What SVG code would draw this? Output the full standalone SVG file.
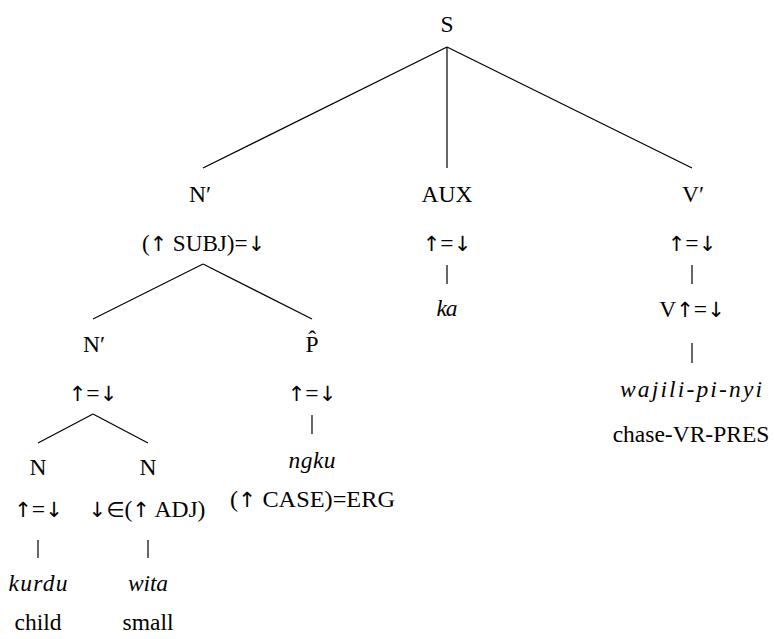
<svg xmlns="http://www.w3.org/2000/svg" width="775" height="639" viewBox="0 0 775 639">
<style>
text{font-family:"Liberation Serif","DejaVu Serif",serif;font-size:23.5px;fill:#000;text-anchor:middle}
.it{font-style:italic}
.ar{font-family:"DejaVu Sans","Liberation Sans",sans-serif;font-size:21px}
.n{opacity:0.99}
line{stroke:#000;stroke-width:1.2}
</style>
<rect width="775" height="639" fill="#fff"/>
<g id="connectors">
<line x1="447" y1="47" x2="203" y2="168"/>
<line x1="447" y1="47" x2="447" y2="168"/>
<line x1="447" y1="47" x2="692" y2="168"/>
<line x1="203" y1="264" x2="93" y2="319"/>
<line x1="203" y1="264" x2="312" y2="319"/>
<line x1="93" y1="414" x2="38" y2="443"/>
<line x1="93" y1="414" x2="148" y2="443"/>
<line x1="447" y1="265" x2="447" y2="284"/>
<line x1="692" y1="265" x2="692" y2="284"/>
<line x1="692" y1="343" x2="692" y2="363"/>
<line x1="312" y1="415" x2="312" y2="434"/>
<line x1="38" y1="540" x2="38" y2="558"/>
<line x1="148" y1="540" x2="148" y2="558"/>
</g>
<g id="S" class="n"><text x="447" y="32">S</text></g>
<g id="Nbar1" class="n"><text x="200" y="202">N′</text><text x="203.5" y="251" textLength="123" lengthAdjust="spacingAndGlyphs">(<tspan class="ar">↑︎</tspan> SUBJ)=<tspan class="ar">↓︎</tspan></text></g>
<g id="AUX" class="n"><text x="447" y="202">AUX</text><text x="447" y="251"><tspan class="ar">↑︎</tspan>=<tspan class="ar">↓︎</tspan></text><text class="it" x="447" y="316" textLength="21" lengthAdjust="spacing">ka</text></g>
<g id="Vbar" class="n"><text x="693" y="202">V′</text><text x="692" y="251"><tspan class="ar">↑︎</tspan>=<tspan class="ar">↓︎</tspan></text></g>
<g id="V" class="n"><text x="692" y="317">V<tspan class="ar">↑︎</tspan>=<tspan class="ar">↓︎</tspan></text><text class="it" x="691" y="397" textLength="142" lengthAdjust="spacing">wajili-pi-nyi</text><text x="691" y="442">chase-VR-PRES</text></g>
<g id="Nbar2" class="n"><text x="94" y="352">N′</text><text x="93" y="401"><tspan class="ar">↑︎</tspan>=<tspan class="ar">↓︎</tspan></text></g>
<g id="Phat" class="n"><text x="312" y="352">P̂</text><text x="312" y="401"><tspan class="ar">↑︎</tspan>=<tspan class="ar">↓︎</tspan></text><text class="it" x="312" y="468" textLength="47" lengthAdjust="spacing">ngku</text><text x="312.5" y="507" textLength="165" lengthAdjust="spacingAndGlyphs">(<tspan class="ar">↑︎</tspan> CASE)=ERG</text></g>
<g id="N1" class="n"><text x="38" y="475">N</text><text x="38.5" y="517"><tspan class="ar">↑︎</tspan>=<tspan class="ar">↓︎</tspan></text><text class="it" x="38" y="591" textLength="59" lengthAdjust="spacing">kurdu</text><text x="38" y="630">child</text></g>
<g id="N2" class="n"><text x="147" y="517"><tspan class="ar">↓︎∈</tspan>(<tspan class="ar">↑︎</tspan> ADJ)</text><text x="148" y="475">N</text><text class="it" x="148" y="591" textLength="40" lengthAdjust="spacing">wita</text><text x="148" y="630">small</text></g>
</svg>
